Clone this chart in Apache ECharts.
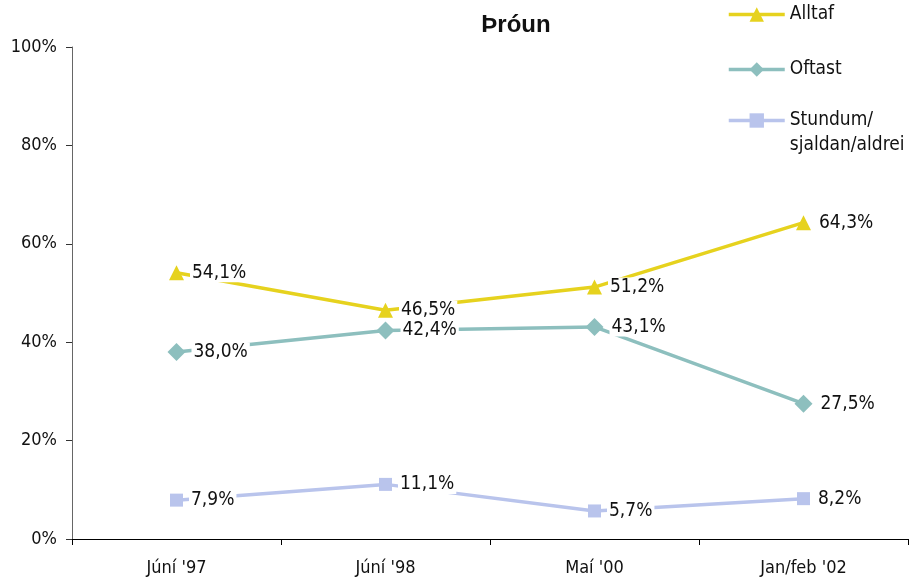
<!DOCTYPE html>
<html><head><meta charset="utf-8">
<script src="https://cdn.jsdelivr.net/npm/echarts@6/dist/echarts.min.js"></script>
<style>html,body{margin:0;padding:0;background:#fff}#c{width:912px;height:579px}</style>
</head><body><div id="c"></div>
<script>
const categories = ["Júní '97", "Júní '98", "Maí '00", "Jan/feb '02"];
const alltaf = [54.1, 46.5, 51.2, 64.3];
const oftast = [38.0, 42.4, 43.1, 27.5];
const stundum = [7.9, 11.1, 5.7, 8.2];
const yTicks = [0, 20, 40, 60, 80, 100];
const seriesNames = ["Alltaf", "Oftast", "Stundum/\nsjaldan/aldrei"];

const FONT = "'Liberation Sans Narrow', 'DejaVu Sans Condensed', 'Arial Narrow', sans-serif";
const colors = ['#E6D21E', '#8DBFBE', '#B9C4EC'];
const symbols = ['triangle', 'diamond', 'rect'];
const symSizes = [15, 18, 13];

const chart = echarts.init(document.getElementById('c'), null, {renderer: 'canvas'});
function mk(name, data, i) {
  return {
    name: name, type: 'line', data: data,
    symbol: symbols[i], symbolSize: symSizes[i],
    itemStyle: {color: colors[i]},
    lineStyle: {color: colors[i], width: 3.5},
    z: 2 + i,
    label: {
      show: true, position: 'right', distance: 6,
      fontFamily: FONT, fontSize: 19, color: '#111',
      backgroundColor: '#fff', padding: [0, 2, 0, 2],
      formatter: p => p.value.toFixed(1).replace('.', ',') + '%'
    }
  };
}
const legendBase = {
  orient: 'vertical', left: 727, itemWidth: 56, itemHeight: 18, padding: 0,
  textStyle: {fontFamily: FONT, fontSize: 19, color: '#111', lineHeight: 25},
  lineStyle: {width: 3.5},
  itemGap: 0, selectedMode: false
};
chart.setOption({
  animation: false,
  title: {text: 'Þróun', left: 511, top: 8, textAlign: 'center',
    textStyle: {fontFamily: "'Liberation Sans', Arial, sans-serif", fontWeight: 'bold', fontSize: 24, color: '#111'}},
  legend: [
    Object.assign({}, legendBase, {top: 2, data: [seriesNames[0]]}),
    Object.assign({}, legendBase, {top: 57, data: [seriesNames[1]]}),
    Object.assign({}, legendBase, {top: 83, data: [seriesNames[2]],
      formatter: name => '\n' + name})
  ],
  grid: {left: 72, right: 4, top: 47, bottom: 40},
  xAxis: {
    type: 'category', data: categories, boundaryGap: true,
    axisLine: {lineStyle: {color: '#000', width: 1}},
    axisTick: {show: true, length: 6, lineStyle: {color: '#000'}},
    axisLabel: {fontFamily: FONT, fontSize: 18, color: '#111', margin: 20}
  },
  yAxis: {
    type: 'value', min: 0, max: 100, interval: 20,
    axisLine: {show: true, lineStyle: {color: '#666', width: 1}},
    axisTick: {show: true, length: 6, lineStyle: {color: '#333'}},
    splitLine: {show: false},
    axisLabel: {fontFamily: FONT, fontSize: 18, color: '#111', margin: 15,
      formatter: v => yTicks.includes(v) ? v + '%' : ''}
  },
  series: [mk(seriesNames[0], alltaf, 0), mk(seriesNames[1], oftast, 1), mk(seriesNames[2], stundum, 2)]
});
</script></body></html>
